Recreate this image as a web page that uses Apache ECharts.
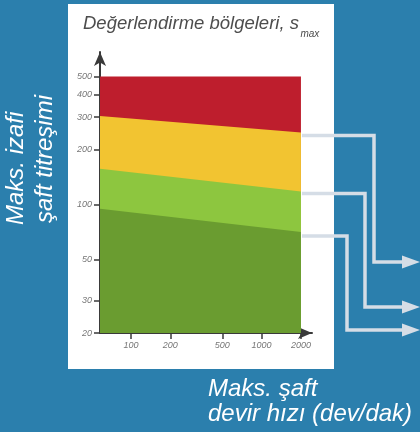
<!DOCTYPE html>
<html><head><meta charset="utf-8">
<script src="https://cdn.jsdelivr.net/npm/echarts@6/dist/echarts.min.js"></script>
<style>html,body{margin:0;padding:0;background:#2b7fad;}#c{width:420px;height:432px;}</style>
</head><body><div id="c"></div>
<script>
// Data
const xRange = [58, 2000];
const redTop = [500, 500];
const redYellow = [305, 248];
const yellowGreen = [157, 118];
const greenDark = [95, 71];
const xTicks = [100, 200, 500, 1000, 2000];
const yTicks = [20, 30, 50, 100, 200, 300, 400, 500];
const zoneNames = ['red', 'yellow', 'lightgreen', 'darkgreen'];
const zoneColors = ['#be1e2d', '#f2c431', '#8dc63f', '#6a9c30'];
const zoneTops = [redTop, redYellow, yellowGreen, greenDark];
const titleMain = 'Değerlendirme bölgeleri, s';
const titleSub = 'max';

const FONT = "'Liberation Sans', Arial, sans-serif";
const chart = echarts.init(document.getElementById('c'), null, {renderer: 'canvas'});

const series = zoneTops.map((vals, i) => ({
  name: zoneNames[i],
  type: 'line',
  symbol: 'none',
  silent: true,
  lineStyle: {width: 0},
  areaStyle: {color: zoneColors[i], opacity: 1, origin: 'start'},
  data: xRange.map((x, j) => [x, vals[j]]),
  z: 2 + i
}));

const axisCommon = {
  axisLine: {show: true, onZero: false, lineStyle: {color: '#3a3a3a', width: 2}, symbol: ['none', 'arrow'], symbolSize: [9, 14]},
  axisTick: {show: true, length: 6, lineStyle: {color: '#3a3a3a', width: 1.5}},
  axisLabel: {fontStyle: 'italic', fontSize: 9, color: '#777', fontFamily: FONT, margin: 8, formatter: v => String(Math.round(v))},
  splitLine: {show: false},
  minorTick: {show: false}
};

function txt(id, x, y, s, rot, align, size, color) {
  return {type: 'text', id: id, x: x, y: y, rotation: rot, z: 30,
    style: {text: s, fill: color || '#fff', fontSize: size || 24, fontStyle: 'italic', fontFamily: FONT, align: align, verticalAlign: 'middle'}};
}

// measure main title width to place the subscript right after it
const mctx = document.createElement('canvas').getContext('2d');
mctx.font = 'italic 18.5px ' + FONT;
const titleW = mctx.measureText(titleMain).width;

chart.setOption({
  backgroundColor: '#2b7fad',
  animation: false,
  grid: {left: 100, right: 108, top: 52, bottom: 99, containLabel: false},
  xAxis: Object.assign({}, axisCommon, {
    type: 'log', min: xRange[0], max: 2430,
    axisTick: Object.assign({}, axisCommon.axisTick, {customValues: xTicks}),
    axisLabel: Object.assign({}, axisCommon.axisLabel, {customValues: xTicks})
  }),
  yAxis: Object.assign({}, axisCommon, {
    type: 'log', min: 20, max: 680,
    axisTick: Object.assign({}, axisCommon.axisTick, {customValues: yTicks}),
    axisLabel: Object.assign({}, axisCommon.axisLabel, {customValues: yTicks})
  }),
  graphic: [
    {type: 'rect', id: 'panel', z: -10, shape: {x: 68, y: 4, width: 266, height: 365}, style: {fill: '#ffffff'}},
    txt('tm', 83, 24, titleMain, 0, 'left', 18.5, '#4d4d4d'),
    txt('ts', 83 + titleW + 1.5, 34.5, titleSub, 0, 'left', 10, '#4d4d4d'),
    txt('yt1', 16, 225, 'Maks. izafi', Math.PI / 2, 'left'),
    txt('yt2', 45, 223, 'şaft titreşimi', Math.PI / 2, 'left'),
    txt('xt1', 208, 389, 'Maks. şaft', 0, 'left'),
    txt('xt2', 208, 414, 'devir hızı (dev/dak)', 0, 'left')
  ],
  series: series
});

// Arrow connectors from zone boundaries at max speed
const bounds = [redYellow, yellowGreen, greenDark];
const lineOffset = [3, 2, 4];
const bendX = [374, 365, 347];
const endY = [262, 307, 330];
const arrowEls = [];
bounds.forEach((b, i) => {
  const p = chart.convertToPixel({xAxisIndex: 0, yAxisIndex: 0}, [xRange[1], b[1]]);
  const y0 = p[1] + lineOffset[i];
  arrowEls.push({type: 'polyline', id: 'al' + i, z: 20, shape: {points: [[p[0] + 1, y0], [bendX[i], y0], [bendX[i], endY[i]], [404, endY[i]]]}, style: {stroke: '#d5dde6', lineWidth: 3.5, fill: null}});
  arrowEls.push({type: 'polygon', id: 'ah' + i, z: 20, shape: {points: [[402, endY[i] - 6.5], [420, endY[i]], [402, endY[i] + 6.5]]}, style: {fill: '#d5dde6'}});
});
chart.setOption({graphic: arrowEls});
</script></body></html>
